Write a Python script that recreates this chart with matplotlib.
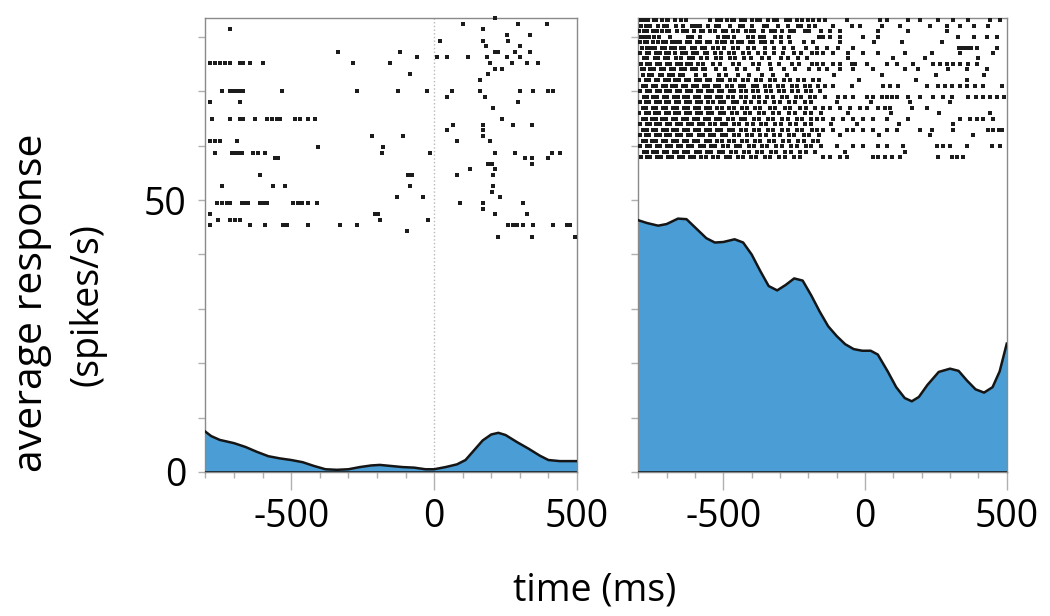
import numpy as np
import matplotlib
matplotlib.use("Agg")
from matplotlib import pyplot as plt
from matplotlib.ticker import MultipleLocator, FixedLocator

plt.rcParams['font.family'] = ['Open Sans', 'DejaVu Sans']

# average response curves (time in ms, spikes/s)
left_t = [-800, -780, -750, -700, -660, -620, -580, -540, -500, -460, -420, -380, -340, -300,
          -260, -220, -190, -150, -110, -70, -30, 0, 40, 80, 110, 140, 170, 200, 225, 250,
          290, 330, 370, 400, 440, 500]
left_rate = [7.4, 6.6, 5.9, 5.3, 4.6, 3.7, 2.9, 2.5, 2.2, 1.8, 1.1, 0.5, 0.4, 0.5,
             0.9, 1.2, 1.3, 1.1, 0.9, 0.8, 0.5, 0.5, 0.9, 1.4, 2.2, 4.0, 5.8, 6.9, 7.2, 6.8,
             5.5, 4.3, 3.0, 2.2, 2.0, 2.0]

right_t = [-800, -770, -730, -700, -660, -630, -600, -560, -530, -500, -460, -430, -400, -370,
           -340, -310, -280, -250, -220, -190, -160, -130, -100, -70, -40, -10, 20, 45, 80,
           110, 140, 165, 190, 220, 260, 300, 330, 360, 390, 420, 450, 475, 500]
right_rate = [46.3, 45.8, 45.3, 45.6, 46.6, 46.5, 45.0, 43.0, 42.2, 42.3, 42.8, 42.2, 40.0, 37.0,
              34.2, 33.4, 34.4, 35.6, 35.2, 32.5, 29.5, 26.8, 25.0, 23.5, 22.6, 22.3, 22.3, 21.6, 18.5,
              15.6, 13.6, 13.0, 13.8, 16.0, 18.4, 19.0, 18.6, 16.8, 15.2, 14.6, 15.6, 18.5, 23.6]

# spike rasters: one list of spike times (ms) per trial, top trial first
left_trials = [
    [213],
    [101, 294, 394],
    [-714, 171],
    [254, 336],
    [21, 171, 259],
    [182, 301],
    [-336, -119, 213, 224, 283, 336],
    [-60, 10, 45, 119, 185, 255, 301],
    [-784, -767, -749, -732, -714, -679, -669, -644, -599, -284, -154, 196, 273, 325, 364],
    [213, 238],
    [-84, 189],
    [161],
    [],
    [-742, -714, -704, -690, -679, -669, -532, -270, -126, -25, 63, 161, 301, 346, 399, 416],
    [45, 178],
    [-784, -679, 294],
    [206],
    [],
    [-777, -714, -679, -669, -627, -585, -567, -550, -539, -487, -469, -441, -417, 238],
    [66, 171, 276, 343],
    [45, 171],
    [-217, -109, 171],
    [-784, -767, -749, -690, 80, 196],
    [-406, -179],
    [-767, -707, -697, -686, -672, -634, -616, -592, -182, -14, 213, 283, 413, 441],
    [-557, -546, 318, 343, 399],
    [189, 196, 203, 343],
    [126, 213],
    [-609, -91, -77, 80, 206],
    [],
    [-742, -564, -522, -84, 206],
    [203],
    [-130, -39, 231],
    [-760, -742, -725, -714, -672, -662, -651, -609, -599, -585, -494, -476, -462, -441,
     -410, 91, 171, 311],
    [171],
    [-784, -207, -196, 213, 325],
    [-756, -714, -697, -679, -189, -21],
    [-784, -644, -592, -529, -515, -441, -329, -270, 259, 276, 290, 311, 346, 416, 465, 476],
    [-95],
    [224, 343, 493],
]

right_trials = [
    [-792, -781, -766, -744, -738, -716, -700, -694, -671, -648, -633, -548, -521, -509, -488,
     -470, -462, -437, -425, -398, -380, -371, -344, -322, -309, -280, -266, -239, -221, -201,
     -184, -163, -141, -65, 53, 77, 153, 194, 259, 312, 365, 441, 477],
    [-789, -772, -760, -731, -711, -699, -668, -641, -612, -598, -583, -553, -525, -517, -478,
     -440, -431, -399, -358, -347, -306, -271, -238, -225, -197, -176, -112, -47, -18, 59, 124,
     229, 288, 335, 383, 435],
    [-797, -780, -771, -747, -733, -718, -697, -690, -663, -644, -629, -603, -580, -571, -546,
     -529, -502, -491, -466, -447, -419, -401, -392, -359, -331, -318, -293, -265, -249, -213,
     -196, -157, -124, -88, 47, 150, 290],
    [-791, -776, -763, -744, -727, -688, -625, -609, -584, -520, -499, -485, -461, -414, -396,
     -372, -355, -316, -297, -268, -163, -147, -124, -88, -6, 47, 329, 383, 430, 465],
    [-795, -778, -770, -749, -731, -712, -703, -681, -667, -652, -628, -616, -593, -582, -556,
     -547, -524, -503, -494, -471, -449, -433, -407, -395, -368, -352, -327, -296, -265, -214,
     -182, -90, 30, 130, 270],
    [-787, -768, -755, -741, -716, -706, -684, -671, -651, -639, -611, -601, -575, -563, -538,
     -518, -497, -466, -447, -413, -390, -352, -322, -287, -254, -207, -171, -135, -94, -41,
     330, 345, 360, 375, 394, 465],
    [-793, -771, -762, -736, -725, -702, -692, -670, -647, -633, -606, -592, -565, -556, -528,
     -508, -479, -463, -429, -408, -376, -352, -320, -291, -252, -226, -187, -168, -147, -112,
     -59, -6, 47, 141, 235, 335, 453],
    [-780, -769, -741, -729, -705, -694, -668, -651, -621, -607, -577, -559, -527, -509, -478,
     -458, -427, -401, -363, -338, -297, -273, -236, -203, -60, 100, 210, 400],
    [-791, -769, -757, -735, -723, -699, -687, -662, -651, -627, -615, -590, -573, -537, -513,
     -467, -443, -397, -373, -335, -303, -257, -233, -187, -168, -147, -112, -88, -47, -35,
     6, 77, 112, 171, 241, 265, 288, 312, 335, 365, 394],
    [-788, -779, -757, -744, -719, -708, -686, -673, -649, -636, -609, -598, -572, -563, -527,
     -493, -452, -423, -377, -333, -287, -248, -197, -163, -135, -88, -41, 29, 141, 188, 294,
     359, 430],
    [-783, -762, -751, -725, -715, -692, -679, -652, -643, -597, -563, -517, -490, -447, -408,
     -362, -323, -277, -110, 60, 250, 420],
    [-796, -773, -763, -739, -729, -705, -693, -669, -658, -633, -621, -597, -583, -559, -547,
     -519, -503, -475, -458, -430, -414, -385, -367, -337, -319, -287, -265, -235, -215, -182,
     -163, -20, 180, 360],
    [-784, -773, -749, -738, -713, -703, -680, -667, -642, -631, -607, -593, -569, -555, -529,
     -515, -487, -471, -442, -426, -397, -381, -353, -335, -307, -288, -259, -241, -212, -195,
     -167, -141, -112, -47, 65, 88, 118, 218, 259, 282, 306, 335, 359, 388, 418, 482],
    [-793, -771, -759, -735, -723, -701, -689, -665, -653, -629, -615, -591, -579, -555, -541,
     -517, -503, -477, -463, -437, -421, -394, -377, -349, -333, -303, -286, -256, -238, -207,
     -189, -159],
    [-781, -770, -747, -733, -709, -698, -673, -660, -637, -623, -599, -586, -562, -548, -522,
     -508, -482, -465, -437, -421, -392, -375, -345, -325, -294, -275, -245, -225, -195, -175,
     -141, -94, -71, -41, 6, 29, 59, 77, 94, 112, 153, 194, 241, 276, 306, 365, 390, 415,
     440, 465, 490],
    [-794, -772, -761, -738, -725, -702, -691, -667, -655, -631, -618, -593, -580, -553, -538,
     -512, -497, -467, -451, -422, -403, -373, -353, -322, -301, -267, -246, -212, -190, -100,
     20, 160, 300],
    [-783, -773, -749, -737, -713, -701, -677, -663, -639, -625, -601, -587, -561, -548, -522,
     -506, -479, -463, -434, -417, -387, -369, -337, -317, -284, -263, -229, -208, -177, -147,
     -124, -88, -53, -18, 6, 47, 71, 88, 165, 218],
    [-796, -774, -763, -740, -728, -704, -693, -669, -656, -631, -618, -593, -579, -553, -539,
     -512, -497, -469, -453, -424, -406, -375, -355, -324, -303, -269, -247, -213, -191, -157,
     -60, 90, 260, 440],
    [-785, -774, -750, -739, -715, -703, -679, -666, -642, -629, -604, -591, -565, -551, -525,
     -510, -483, -467, -439, -422, -393, -375, -344, -325, -294, -273, -241, -221, -189, -169,
     -147, -112, -77, -41, -6, 29, 77, 153, 335, 371, 394, 418, 453],
    [-793, -770, -760, -736, -724, -700, -688, -663, -650, -625, -611, -586, -572, -546, -531,
     -504, -489, -461, -444, -415, -397, -367, -348, -317, -297, -265, -245, -212, -191, -120,
     -30, 120, 310],
    [-782, -771, -747, -736, -712, -700, -676, -663, -639, -626, -601, -587, -562, -548, -522,
     -507, -480, -465, -437, -420, -391, -373, -343, -324, -293, -273, -241, -221, -188, -168,
     -147, -112, -65, -41, -6, 29, 77, 112, 194, 235, 312, 435, 453, 471, 482],
    [-795, -773, -761, -737, -725, -701, -689, -664, -651, -626, -613, -587, -573, -547, -532,
     -505, -489, -461, -445, -416, -399, -369, -351, -320, -301, -269, -249, -217, -196, -163,
     -90, 50, 230, 380],
    [-784, -773, -750, -738, -714, -702, -677, -665, -640, -627, -602, -588, -562, -548, -521,
     -506, -479, -463, -435, -418, -388, -370, -340, -321, -289, -269, -237, -217, -185, -165],
    [-793, -769, -758, -734, -722, -698, -686, -661, -648, -623, -609, -583, -569, -543, -528,
     -501, -485, -457, -440, -411, -393, -363, -345, -313, -293, -261, -241, -209, -189, -157,
     -100, -41, -6, 47, 77, 135, 253, 276, 300, 359, 447, 477],
    [-781, -770, -747, -735, -711, -699, -675, -662, -637, -624, -598, -584, -558, -543, -516,
     -501, -473, -457, -428, -411, -381, -363, -332, -313, -281, -261, -229, -208, -175, -70,
     140],
    [-792, -769, -757, -733, -720, -695, -682, -657, -643, -617, -603, -577, -562, -535, -520,
     -492, -476, -447, -430, -401, -383, -353, -334, -303, -283, -251, -231, -147, -124, -88,
     -65, 29, 47, 71, 94, 124, 259, 306, 324, 347],
]

xticks_major = [-500, 0, 500]
xtick_labels = ['-500', '0', '500']
yticks_labels = [0, 50]

fill_col = '#4a9ed5'
spine_col = '#8a8a8a'
tick_col = '#b0b0b0'
fs = 27

fig = plt.figure(figsize=(10.5, 6.16), dpi=100)
ax1 = fig.add_axes([0.1957, 0.2338, 0.3538, 0.7370])
ax2 = fig.add_axes([0.6079, 0.2338, 0.3509, 0.7370])


def draw_panel(ax, t, rate, trials, raster_box, show_y, ms):
    ax.fill_between(t, rate, 0, color=fill_col, lw=0, zorder=2)
    ax.plot(t, rate, color='#151515', lw=1.8, zorder=3)
    ax.axhline(0, color='#151515', lw=1.8, zorder=3)
    ax.set_xlim(-800, 500)
    ax.set_ylim(0, 83.5)
    ax.xaxis.set_major_locator(FixedLocator(xticks_major))
    ax.xaxis.set_minor_locator(MultipleLocator(100))
    ax.set_xticklabels(xtick_labels, fontsize=fs)
    ax.yaxis.set_major_locator(FixedLocator(yticks_labels))
    ax.yaxis.set_minor_locator(MultipleLocator(10))
    if show_y:
        ax.set_yticklabels([str(v) for v in yticks_labels], fontsize=fs)
    else:
        ax.set_yticklabels([])
    ax.tick_params(axis='x', which='major', length=13, width=1, color=tick_col, pad=6)
    ax.tick_params(axis='x', which='minor', length=4, width=1, color=tick_col)
    ax.tick_params(axis='y', which='both', length=5, width=1, color=tick_col, pad=9)
    for s in ax.spines.values():
        s.set_color(spine_col)
        s.set_linewidth(1)

    rax = ax.inset_axes(raster_box)
    rax.set_xlim(-800, 500)
    rax.set_ylim(len(trials) - 0.5, -0.5)
    rax.axis('off')
    rax.patch.set_alpha(0)
    for i, spikes in enumerate(trials):
        if spikes:
            rax.plot(spikes, [i] * len(spikes), ls='none', marker='s', ms=ms,
                     mew=0, color='#1c1c1c')


draw_panel(ax1, left_t, left_rate, left_trials, [0, 0.5121, 1, 0.4934], True, 2.7)
draw_panel(ax2, right_t, right_rate, right_trials, [0, 0.6867, 1, 0.3149], False, 2.8)

ax1.axvline(0, color='#b8b8b8', lw=1, ls=':', zorder=1)

fig.text(32 / 1050, 1 - 303 / 616, 'average response', rotation=90,
         ha='center', va='center', fontsize=29.5)
fig.text(88 / 1050, 1 - 305 / 616, '(spikes/s)', rotation=90,
         ha='center', va='center', fontsize=fs)
fig.text(595 / 1050, 1 - 590 / 616, 'time (ms)', ha='center', va='center', fontsize=fs)

fig.savefig('out.png', dpi=100)
